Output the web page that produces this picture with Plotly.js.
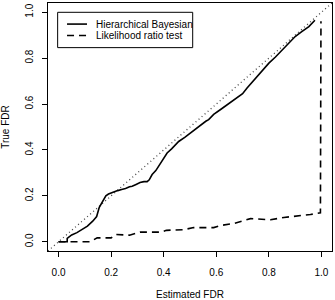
<!DOCTYPE html>
<html>
<head>
<meta charset="utf-8">
<script src="https://cdn.plot.ly/plotly-3.0.1.min.js"></script>
<style>html,body{margin:0;padding:0;background:#fff;}#chart{width:335px;height:300px;}</style>
</head>
<body>
<div id="chart"></div>
<script>
// Hierarchical Bayesian: estimated FDR vs true FDR
const hbEstimated = [0, 0.033, 0.033, 0.05, 0.07, 0.09, 0.11, 0.13, 0.145, 0.155, 0.167, 0.18, 0.19, 0.2, 0.215, 0.225, 0.24, 0.255, 0.27, 0.28, 0.295, 0.31, 0.325, 0.337, 0.345, 0.356, 0.37, 0.381, 0.395, 0.413, 0.43, 0.457, 0.48, 0.502, 0.52, 0.54, 0.56, 0.571, 0.59, 0.615, 0.641, 0.66, 0.679, 0.7, 0.717, 0.74, 0.762, 0.78, 0.8, 0.825, 0.85, 0.875, 0.9, 0.925, 0.952, 0.975];
const hbTrue = [0, 0, 0.015, 0.03, 0.04, 0.053, 0.068, 0.09, 0.11, 0.15, 0.177, 0.2, 0.208, 0.213, 0.22, 0.223, 0.228, 0.232, 0.24, 0.242, 0.25, 0.258, 0.262, 0.262, 0.27, 0.293, 0.31, 0.329, 0.355, 0.387, 0.405, 0.437, 0.455, 0.474, 0.49, 0.51, 0.525, 0.532, 0.555, 0.575, 0.597, 0.61, 0.626, 0.645, 0.67, 0.7, 0.727, 0.75, 0.778, 0.805, 0.836, 0.865, 0.894, 0.915, 0.937, 0.965];

// Likelihood ratio test
const lrtEstimated = [0, 0.12, 0.147, 0.2, 0.217, 0.27, 0.31, 0.39, 0.41, 0.476, 0.514, 0.59, 0.616, 0.667, 0.73, 0.806, 0.857, 0.907, 0.958, 0.996, 0.998];
const lrtTrue = [0, 0, 0.017, 0.017, 0.032, 0.029, 0.042, 0.042, 0.05, 0.053, 0.062, 0.062, 0.071, 0.08, 0.101, 0.096, 0.106, 0.111, 0.119, 0.126, 0.96];

const seriesNames = ["Hierarchical Bayesian", "Likelihood ratio test"];
const tickValues = [0, 0.2, 0.4, 0.6, 0.8, 1.0];
const tickLabels = ["0.0", "0.2", "0.4", "0.6", "0.8", "1.0"];
const axisRange = [-0.04, 1.04];

const font = {family: "Liberation Sans, Arial, Helvetica, sans-serif", size: 10, color: "#000"};
const lineStyles = [
  {color: "#000", width: 1.6},
  {color: "#000", width: 1.6, dash: "7px,5px"}
];

const traces = [
  {x: hbEstimated, y: hbTrue, name: seriesNames[0], type: "scatter", mode: "lines", line: lineStyles[0]},
  {x: lrtEstimated, y: lrtTrue, name: seriesNames[1], type: "scatter", mode: "lines", line: lineStyles[1]}
];

const axisCommon = {
  range: axisRange, tickmode: "array", tickvals: tickValues, ticktext: tickLabels,
  ticks: "outside", ticklen: 5, tickwidth: 1, tickcolor: "#000",
  showline: true, linecolor: "#000", linewidth: 1, mirror: true,
  showgrid: false, zeroline: false, tickfont: font, fixedrange: true
};

// Legend drawn as a framed box (paper coordinates)
const legendBox = {x0: 0.034, x1: 0.5095, y0: 0.82, y1: 0.9625};
const legendRowsY = [0.915, 0.869];
const legendSample = {x0: 0.067, x1: 0.1373};
const legendTextX = 0.162;

const shapes = [
  {type: "line", xref: "paper", yref: "paper", x0: 0, y0: 0, x1: 1, y1: 1,
   line: {color: "#444", width: 1.3, dash: "1px,3px"}, layer: "below"},
  {type: "rect", xref: "paper", yref: "paper", x0: legendBox.x0, x1: legendBox.x1,
   y0: legendBox.y0, y1: legendBox.y1, line: {color: "#000", width: 1}, fillcolor: "#fff"}
];
const annotations = [];
seriesNames.forEach((name, i) => {
  shapes.push({type: "line", xref: "paper", yref: "paper",
    x0: legendSample.x0, x1: legendSample.x1, y0: legendRowsY[i], y1: legendRowsY[i],
    line: lineStyles[i]});
  annotations.push({text: name, xref: "paper", yref: "paper", x: legendTextX, y: legendRowsY[i],
    xanchor: "left", yanchor: "middle", showarrow: false, font: font});
});

const layout = {
  width: 335, height: 300,
  margin: {l: 48, r: 3, t: 3, b: 49},
  paper_bgcolor: "#fff", plot_bgcolor: "#fff",
  font: font,
  showlegend: false,
  xaxis: Object.assign({}, axisCommon, {
    ticklabelstandoff: 7,
    title: {text: "Estimated FDR", font: font, standoff: 14}
  }),
  yaxis: Object.assign({}, axisCommon, {
    tickangle: -90,
    ticklabelstandoff: 5,
    title: {text: "True FDR", font: font, standoff: 14}
  }),
  shapes: shapes,
  annotations: annotations
};

Plotly.newPlot("chart", traces, layout, {staticPlot: true, displayModeBar: false});
</script>
</body>
</html>
